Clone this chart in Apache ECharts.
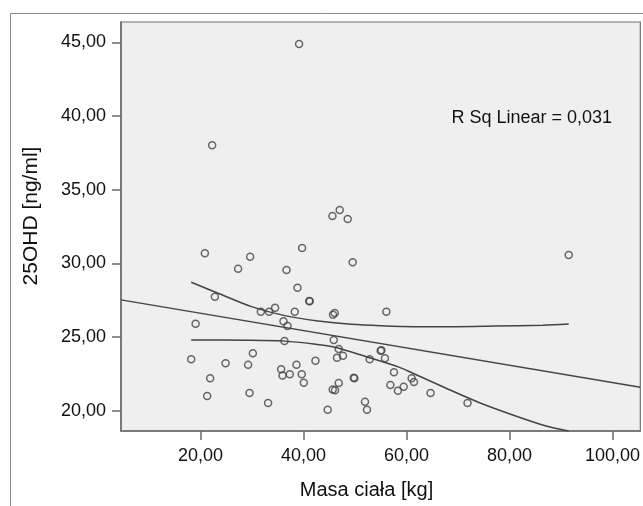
<!DOCTYPE html>
<html>
<head>
<meta charset="utf-8">
<script src="https://cdn.jsdelivr.net/npm/echarts@6/dist/echarts.min.js"></script>
<style>
  html, body { margin: 0; padding: 0; background: #ffffff; }
  #chart { width: 643px; height: 506px; }
</style>
</head>
<body>
<div id="chart"></div>
<script>
// ---- data ----
const massKg = [39.13, 22.25, 45.61, 47.02, 48.57, 20.83, 29.62, 39.71, 49.54, 27.29,
  36.68, 38.82, 22.77, 41.20, 41.10, 31.70, 33.31, 34.47, 38.29, 46.05,
  45.72, 56.08, 19.03, 36.10, 36.88, 36.29, 45.86, 46.83, 55.11, 54.98,
  47.66, 46.50, 52.84, 55.81, 18.18, 30.15, 24.85, 29.23, 42.31, 38.62,
  35.64, 35.91, 37.32, 39.65, 40.04, 21.86, 21.28, 29.51, 33.11, 44.69,
  49.74, 49.87, 46.83, 45.66, 46.11, 51.93, 52.32, 57.56, 56.86, 58.33,
  59.44, 60.99, 61.44, 64.67, 71.85, 91.50];
const ohd = [44.88, 38.01, 33.21, 33.62, 33.01, 30.68, 30.45, 31.04, 30.07, 29.64,
  29.55, 28.35, 27.74, 27.42, 27.45, 26.72, 26.72, 26.99, 26.72, 26.63,
  26.51, 26.72, 25.90, 26.07, 25.75, 24.73, 24.80, 24.19, 24.10, 24.07,
  23.73, 23.60, 23.49, 23.56, 23.49, 23.90, 23.22, 23.12, 23.39, 23.12,
  22.81, 22.38, 22.47, 22.47, 21.90, 22.20, 21.00, 21.20, 20.52, 20.07,
  22.24, 22.20, 21.88, 21.43, 21.38, 20.61, 20.07, 22.61, 21.74, 21.36,
  21.63, 22.20, 21.95, 21.20, 20.52, 30.57];

const fitX = [4.54, 105.41];
const fitY = [27.52, 21.59];

const ciUpperX = [18.18, 23.41, 29.89, 36.35, 42.81, 49.29, 55.0, 61.5, 69.3, 77.0, 86.5, 91.5];
const ciUpperY = [28.72, 27.97, 27.06, 26.45, 26.09, 25.86, 25.76, 25.70, 25.70, 25.74, 25.80, 25.88];
const ciLowerX = [18.18, 29.0, 36.35, 42.0, 46.05, 52.2, 58.66, 61.24, 67.7, 74.18, 80.64, 87.11, 91.5];
const ciLowerY = [24.80, 24.78, 24.72, 24.52, 24.30, 23.66, 22.94, 22.54, 21.52, 20.54, 19.71, 18.96, 18.62];

const xTicks = [20, 40, 60, 80, 100];
const yTicks = [20, 25, 30, 35, 40, 45];
const xRange = [4.54, 105.41];
const yRange = [18.62, 46.38];

const xTitle = 'Masa ciała [kg]';
const yTitle = '25OHD [ng/ml]';
const rsqText = 'R Sq Linear = 0,031';

// ---- chart ----
const zip = (a, b) => a.map((v, i) => [v, b[i]]);
const fmt = v => Number(v).toFixed(2).replace('.', ',');
const FONT = 'Liberation Sans, Arial, sans-serif';
const lineCol = '#444444';
const textCol = '#111111';

const chart = echarts.init(document.getElementById('chart'), null, { renderer: 'canvas' });
chart.setOption({
  animation: false,
  backgroundColor: '#ffffff',
  grid: {
    left: 121, top: 22, width: 520, height: 409,
    show: true, backgroundColor: '#efefef', borderColor: '#707070', borderWidth: 1.2
  },
  xAxis: {
    type: 'value', min: xRange[0], max: xRange[1],
    axisLine: { show: true, onZero: false, lineStyle: { color: '#6a6a6a', width: 1.5 } },
    axisTick: { show: true, customValues: xTicks, length: 9, lineStyle: { color: '#6a6a6a', width: 1.5 } },
    axisLabel: { customValues: xTicks, formatter: fmt, margin: 16, fontSize: 18, fontFamily: FONT, color: textCol },
    splitLine: { show: false }
  },
  yAxis: {
    type: 'value', min: yRange[0], max: yRange[1],
    axisLine: { show: true, onZero: false, lineStyle: { color: '#6a6a6a', width: 1.5 } },
    axisTick: { show: true, customValues: yTicks, length: 9, lineStyle: { color: '#6a6a6a', width: 1.5 } },
    axisLabel: { customValues: yTicks, formatter: fmt, margin: 15, fontSize: 18, fontFamily: FONT, color: textCol },
    splitLine: { show: false }
  },
  graphic: [
    { type: 'rect', silent: true, z: -1, shape: { x: 10.5, y: 13.5, width: 700, height: 600 },
      style: { fill: 'none', stroke: '#8a8a8a', lineWidth: 1 } },
    { type: 'text', silent: true, x: 366.5, y: 490,
      style: { text: xTitle, fontSize: 20, fontFamily: FONT, fill: textCol, align: 'center', verticalAlign: 'middle' } },
    { type: 'text', silent: true, x: 31, y: 216, rotation: Math.PI / 2,
      style: { text: yTitle, fontSize: 21, fontFamily: FONT, fill: textCol, align: 'center', verticalAlign: 'middle' } },
    { type: 'text', silent: true, x: 451.5, y: 118.5,
      style: { text: rsqText, fontSize: 18, fontFamily: FONT, fill: textCol, align: 'left', verticalAlign: 'middle' } }
  ],
  series: [
    { type: 'scatter', data: zip(massKg, ohd), symbol: 'circle', symbolSize: 7,
      itemStyle: { color: 'rgba(0,0,0,0)', borderColor: '#444444', borderWidth: 1.5 }, z: 3 },
    { type: 'line', data: zip(fitX, fitY), showSymbol: false, symbol: 'none',
      lineStyle: { color: lineCol, width: 1.5 }, z: 2 },
    { type: 'line', data: zip(ciUpperX, ciUpperY), showSymbol: false, symbol: 'none', smooth: 0.3,
      lineStyle: { color: lineCol, width: 1.5 }, z: 2 },
    { type: 'line', data: zip(ciLowerX, ciLowerY), showSymbol: false, symbol: 'none', smooth: 0.3,
      lineStyle: { color: lineCol, width: 1.5 }, z: 2 }
  ]
});
</script>
</body>
</html>
